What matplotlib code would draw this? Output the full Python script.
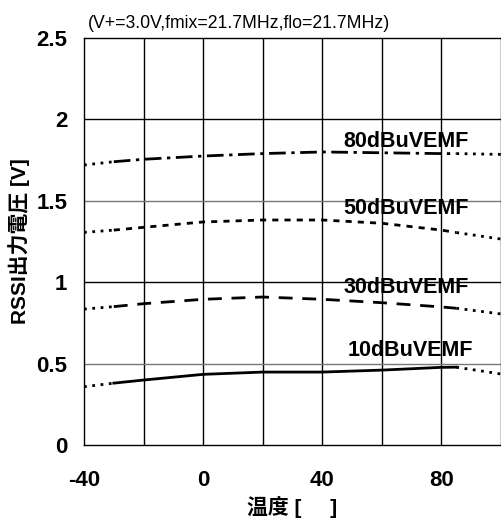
import numpy as np
import matplotlib
matplotlib.use("Agg")
from matplotlib import pyplot as plt

plt.rcParams['font.family'] = ['Liberation Sans', 'Noto Sans CJK JP', 'DejaVu Sans']

# measured range
temps = [-30, -20, 0, 20, 40, 60, 80, 85]
v80 = [1.74, 1.755, 1.775, 1.79, 1.80, 1.795, 1.79, 1.79]
v50 = [1.32, 1.337, 1.37, 1.382, 1.382, 1.362, 1.32, 1.305]
v30 = [0.85, 0.868, 0.895, 0.909, 0.895, 0.874, 0.848, 0.84]
v10 = [0.38, 0.399, 0.434, 0.448, 0.448, 0.46, 0.477, 0.478]

# extrapolated ends (dotted)
end_t = [-40, 100]
end80 = [1.72, 1.785]
end50 = [1.306, 1.265]
end30 = [0.835, 0.805]
end10 = [0.358, 0.436]

names = ["80dBuVEMF", "50dBuVEMF", "30dBuVEMF", "10dBuVEMF"]
label_x = [47, 47, 47, 48.6]
label_y = [1.832, 1.417, 0.932, 0.547]

fig = plt.figure(figsize=(5.02, 5.19), dpi=100)
ax = fig.add_axes([84/502, 1-445/519, 417/502, 407/519])

styles = [(0, (6, 2, 1.2, 2)), (0, (2.2, 2.2)), (0, (5, 3.5)), '-']
series = [(v80, end80), (v50, end50), (v30, end30), (v10, end10)]
dots = (0, (1, 2))
for (v, e), ls in zip(series, styles):
    ax.plot(temps, v, color='black', lw=2.0, ls=ls)
    ax.plot([end_t[0], temps[0]], [e[0], v[0]], color='black', lw=2.0, ls=dots)
    ax.plot([temps[-1], end_t[1]], [v[-1], e[1]], color='black', lw=2.0, ls=dots)

for n, x, y in zip(names, label_x, label_y):
    ax.text(x, y, n, fontsize=15.5, fontweight='bold', ha='left', va='baseline')

ax.set_xlim(-40, 100)
ax.set_ylim(0, 2.5)
xt = list(range(-40, 101, 20))
ax.set_xticks(xt)
ax.set_xticklabels([str(t) if t in (-40, 0, 40, 80) else '' for t in xt])
yt = [0, 0.5, 1, 1.5, 2, 2.5]
ax.set_yticks(yt)
ax.set_yticklabels(["0", "0.5", "1", "1.5", "2", "2.5"])
for t in xt[1:-1]:
    ax.axvline(t, color='black', lw=1.0, zorder=0)
for y in [0.5, 1, 1.5, 2]:
    ax.axhline(y, color='black' if y in (1, 2) else '#777777', lw=1.0, zorder=0)

ax.tick_params(length=0, labelsize=16)
ax.tick_params(axis='x', pad=18)
ax.tick_params(axis='y', pad=12)
for lab in ax.get_xticklabels() + ax.get_yticklabels():
    lab.set_fontweight('bold')
for s in ax.spines.values():
    s.set_linewidth(1.0)

ax.set_xlabel("温度 [     ]", fontsize=15, fontweight='bold')
ax.xaxis.set_label_coords(0.5, -0.125)
ax.set_ylabel("RSSI出力電圧 [V]", fontsize=15, fontweight='bold')
ax.yaxis.set_label_coords(-0.13, 0.5)

fig.text(88/502, 1-28/519, "(V+=3.0V,fmix=21.7MHz,flo=21.7MHz)", fontsize=12.7,
         ha='left', va='baseline')

fig.savefig("out.png", dpi=100)
